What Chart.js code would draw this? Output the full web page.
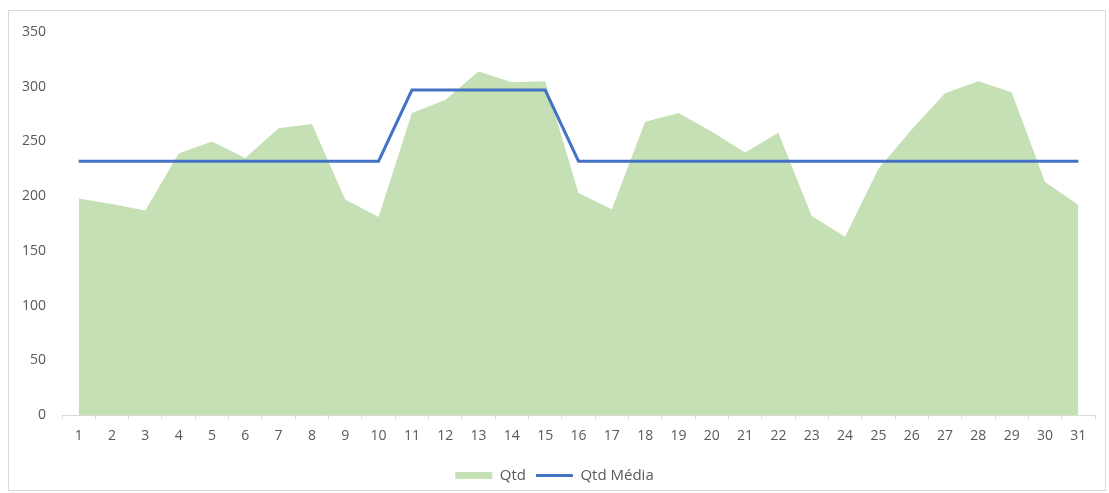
<!DOCTYPE html>
<html>
<head>
<meta charset="utf-8">
<script src="https://cdn.jsdelivr.net/npm/chart.js@4/dist/chart.umd.min.js"></script>
<style>
  body { margin: 0; background: #fff; }
  #frame { position: absolute; left: 8px; top: 10px; width: 1096px; height: 479px; border: 1px solid #d9d9d9; }
  #chart { position: absolute; left: 0; top: 0; }
</style>
</head>
<body>
<div id="frame"></div>
<canvas id="chart" width="1109" height="493"></canvas>
<script>
const days = ['1','2','3','4','5','6','7','8','9','10','11','12','13','14','15','16','17','18','19','20','21','22','23','24','25','26','27','28','29','30','31'];
const qtd = [198, 193, 187, 239, 250, 235, 262, 266, 197, 181, 276, 288, 314, 304, 305, 203, 188, 268, 276, 259, 240, 258, 182, 163, 225, 261, 294, 305, 295, 213, 192];
const qtdMedia = [232, 232, 232, 232, 232, 232, 232, 232, 232, 232, 297, 297, 297, 297, 297, 232, 232, 232, 232, 232, 232, 232, 232, 232, 232, 232, 232, 232, 232, 232, 232];
const yTicks = [0, 50, 100, 150, 200, 250, 300, 350];

const textColor = '#595959';
const font = { family: 'Open Sans', size: 14 };

const ctx = document.getElementById('chart').getContext('2d');

new Chart(ctx, {
  type: 'line',
  data: {
    labels: days,
    datasets: [
      {
        label: 'Qtd',
        data: qtd,
        fill: 'origin',
        backgroundColor: '#c5e0b4',
        borderColor: '#c5e0b4',
        borderWidth: 0,
        pointRadius: 0,
        pointStyle: 'rect',
        tension: 0,
        order: 2,
      },
      {
        label: 'Qtd Média',
        data: qtdMedia,
        fill: false,
        borderColor: '#4472c4',
        backgroundColor: '#4472c4',
        borderWidth: 3,
        pointRadius: 0,
        pointStyle: 'line',
        tension: 0,
        order: 1,
      },
    ],
  },
  options: {
    responsive: false,
    animation: false,
    layout: { padding: { left: 14, right: 14, top: 32, bottom: 0 } },
    plugins: {
      tooltip: { enabled: false },
      legend: {
        position: 'bottom',
        labels: {
          usePointStyle: true,
          pointStyleWidth: 37,
          boxHeight: 7,
          color: textColor,
          font: { family: 'Open Sans', size: 15 },
          padding: 10,
          // keep Qtd first even though the line is drawn on top
          sort: (a, b) => a.datasetIndex - b.datasetIndex,
        },
      },
    },
    scales: {
      x: {
        offset: true,
        grid: { offset: true, drawOnChartArea: false, tickLength: 4, color: '#d9d9d9' },
        border: { color: '#d9d9d9' },
        ticks: { color: textColor, font: font, maxRotation: 0, autoSkip: false, padding: 8 },
        afterFit: axis => { axis.height += 6; },
      },
      y: {
        min: 0,
        max: 350,
        afterBuildTicks: axis => { axis.ticks = yTicks.map(v => ({ value: v })); },
        grid: { display: false },
        border: { display: false },
        ticks: { color: textColor, font: font, padding: 8 },
      },
    },
  },
});
</script>
</body>
</html>
